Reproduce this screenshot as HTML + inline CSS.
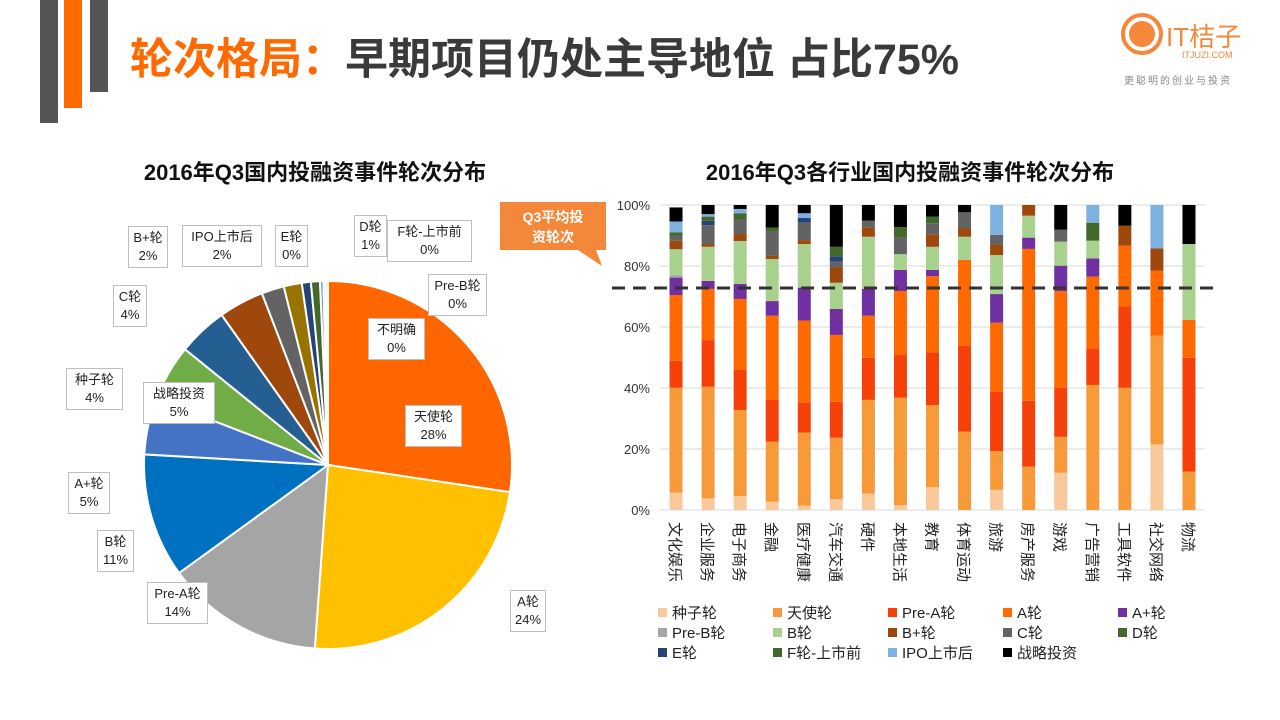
<!DOCTYPE html>
<html><head><meta charset="utf-8">
<style>
body{margin:0;width:1280px;height:720px;background:#fff;overflow:hidden;font-family:"Liberation Sans","Noto Sans CJK SC",sans-serif;position:relative}
.lbl{position:absolute;background:#fff;border:1px solid #bfbfbf;font-size:13px;line-height:18px;text-align:center;color:#222;padding:2px 3px;box-sizing:border-box}
</style></head><body>
<div style="position:absolute;left:40px;top:0;width:18px;height:123px;background:#555"></div>
<div style="position:absolute;left:64px;top:0;width:18px;height:108px;background:#FF6A00"></div>
<div style="position:absolute;left:90px;top:0;width:18px;height:92px;background:#555"></div>
<div style="position:absolute;left:130px;top:25px;font-size:43px;font-weight:bold;color:#3a3a3a;white-space:nowrap"><span style="color:#FF6A00">轮次格局：</span>早期项目仍处主导地位 占比75%</div>
<div style="position:absolute;left:1120px;top:12px;width:140px;height:80px">
 <svg width="140" height="80"><circle cx="22" cy="22" r="19" fill="#fff" stroke="#F4883A" stroke-width="4"/><circle cx="22" cy="22" r="13" fill="#F4883A"/>
 <text x="46" y="34" font-size="26" fill="#F4883A" font-family="Liberation Sans,Noto Sans CJK SC,sans-serif">IT桔子</text>
 <text x="62" y="46" font-size="9" fill="#F4883A">ITJUZI.COM</text>
 <text x="4" y="72" font-size="10" fill="#888" font-family="Noto Sans CJK SC,sans-serif" letter-spacing="2">更聪明的创业与投资</text></svg></div>

<div style="position:absolute;left:100px;top:155px;width:430px;text-align:center;font-size:22px;font-weight:bold;color:#111">2016年Q3国内投融资事件轮次分布</div>
<div style="position:absolute;left:660px;top:155px;width:500px;text-align:center;font-size:22px;font-weight:bold;color:#111">2016年Q3各行业国内投融资事件轮次分布</div>

<svg id="pie" width="1280" height="720" style="position:absolute;left:0;top:0"></svg>

<div class="lbl" style="left:128px;top:226px;width:40px">B+轮<br>2%</div>
<div class="lbl" style="left:182px;top:225px;width:80px">IPO上市后<br>2%</div>
<div class="lbl" style="left:275px;top:225px;width:33px">E轮<br>0%</div>
<div class="lbl" style="left:354px;top:215px;width:33px">D轮<br>1%</div>
<div class="lbl" style="left:387px;top:220px;width:85px">F轮-上市前<br>0%</div>
<div class="lbl" style="left:428px;top:274px;width:59px">Pre-B轮<br>0%</div>
<div class="lbl" style="left:368px;top:318px;width:57px">不明确<br>0%</div>
<div class="lbl" style="left:405px;top:405px;width:57px">天使轮<br>28%</div>
<div class="lbl" style="left:143px;top:382px;width:72px">战略投资<br>5%</div>
<div class="lbl" style="left:113px;top:285px;width:34px">C轮<br>4%</div>
<div class="lbl" style="left:66px;top:368px;width:57px">种子轮<br>4%</div>
<div class="lbl" style="left:68px;top:472px;width:42px">A+轮<br>5%</div>
<div class="lbl" style="left:97px;top:530px;width:37px">B轮<br>11%</div>
<div class="lbl" style="left:147px;top:582px;width:61px">Pre-A轮<br>14%</div>
<div class="lbl" style="left:510px;top:590px;width:36px">A轮<br>24%</div>

<svg id="bar" width="1280" height="720" style="position:absolute;left:0;top:0"></svg>

<script>
// Pie data
const pieCats=["天使轮","A轮","Pre-A轮","B轮","A+轮","战略投资","种子轮","C轮","B+轮","IPO上市后","E轮","D轮","F轮-上市前","Pre-B轮","不明确"];
const pieVals=[27.6,24,14,11,5,5,4.4,4,2,1.6,0.8,0.8,0.3,0.2,0.2];
const pieColors=["#FF6600","#FFC000","#A5A5A5","#0070C0","#4472C4","#70AD47","#255E91","#9E480E","#636363","#997300","#264478","#43682B","#698ED0","#F1975A","#B7B7B7"];
// Bar data
const industries=["文化娱乐","企业服务","电子商务","金融","医疗健康","汽车交通","硬件","本地生活","教育","体育运动","旅游","房产服务","游戏","广告营销","工具软件","社交网络","物流"];
const rounds=["种子轮","天使轮","Pre-A轮","A轮","A+轮","Pre-B轮","B轮","B+轮","C轮","D轮","E轮","F轮-上市前","IPO上市后","战略投资"];
const seed=[5.7,3.8,4.6,2.7,1.4,3.5,5.4,1.6,7.5,0,6.6,0,12.2,0,0,21.5,0];
const angel=[34.4,36.6,28.2,19.7,24,20.2,30.7,35.2,26.9,25.7,12.7,14.2,11.8,41,40.1,35.7,12.6];
const preA=[8.8,15.3,13.1,13.7,9.8,11.8,13.8,14,17.3,28.2,19.5,21.6,16.1,12,26.6,0,37.3];
const roundA=[21.6,16.8,23.3,27.6,26.9,21.9,13.8,21,25,28.1,22.6,49.8,31.7,23.5,20,21.3,12.4];
const aPlus=[5.7,2.6,4.9,4.8,10.8,8.5,8.8,6.9,2,0,9.4,3.7,8.3,6,0,0,0];
const preB=[0.8,0,0,0,0,0,0,0,0,0,0,0,0,0,0,0,0];
const roundB=[8.5,11.2,14.1,13.8,14.3,8.6,17.1,5.2,7.6,7.6,12.8,7.2,7.9,5.8,0,0,24.9];
const bPlus=[2.8,0.9,2.3,1.1,1.3,5,3.1,0,4.1,2.7,3.3,3.5,0,0,6.5,7.3,0];
const roundC=[1.7,6.2,4.6,7.9,5.7,1.9,2.2,5.4,3.6,5.3,3.3,0,3.9,0,0,0,0];
const roundD=[0,0,0,0,0,0,0,0,0,0,0,0,0,0,0,0,0];
const roundE=[0,1.4,0,0,1.6,1.8,0,0,0,0,0,0,0,0,0,0,0];
const roundF=[1,1.4,2.2,1.3,0,3.1,0,3.5,2.2,0,0,0,0,5.9,0,0,0];
const ipo=[3.6,0.8,1.4,0,1.5,0,0,0,0,0,9.8,0,0,5.8,0,14.2,0];
const strategic=[4.6,3,1.3,7.4,2.7,13.7,5.1,7.2,3.8,2.4,0,0,8.1,0,6.8,0,12.8];
const yTicks=[0,20,40,60,80,100];
const avgLine=72.8;

const NS="http://www.w3.org/2000/svg";
function mk(parent,tag,attrs){const e=document.createElementNS(NS,tag);for(const k in attrs)e.setAttribute(k,attrs[k]);parent.appendChild(e);return e;}

// Pie
const pie=document.getElementById('pie');
const cx=328,cy=465,r=184;
const tot=pieVals.reduce((a,b)=>a+b,0);
let ang=0;
pieVals.forEach((v,i)=>{
  const a0=ang, a1=ang+v/tot*2*Math.PI; ang=a1;
  const x0=cx+r*Math.sin(a0),y0=cy-r*Math.cos(a0),x1=cx+r*Math.sin(a1),y1=cy-r*Math.cos(a1);
  const p=mk(pie,'path',{d:`M${cx},${cy}L${x0},${y0}A${r},${r} 0 ${a1-a0>Math.PI?1:0} 1 ${x1},${y1}Z`,fill:pieColors[i],stroke:'#fff','stroke-width':2});
  
  
});

// Bar chart
const bar=document.getElementById('bar');
const series=[seed,angel,preA,roundA,aPlus,preB,roundB,bPlus,roundC,roundD,roundE,roundF,ipo,strategic];
const colors=["#F9C89B","#F79A3A","#F5400A","#FF6A00","#7030A0","#A5A5A5","#A9D18E","#9E480E","#636363","#43682B","#264478","#43682B","#7FB1E0","#000000"];
const y0=510,y1=205,xL=660,xR=1205;
const ys=v=>y0-(v/100)*(y0-y1);
const step=(xR-xL)/industries.length;
const xs=i=>xL+step*(i+0.5);
yTicks.forEach(t=>{
  const l=mk(bar,'line',{x1:xL,x2:xR,y1:ys(t),y2:ys(t),stroke:'#d9d9d9','stroke-width':1});
  
  
  const tx=mk(bar,'text',{x:650,y:ys(t)+5,'text-anchor':'end','font-size':13,fill:'#333'});
  tx.textContent=t+'%';
  
  
});
industries.forEach((name,i)=>{
  let acc=0;
  series.forEach((s,k)=>{
    const v=s[i]; if(!v)return;
    const rc=mk(bar,'rect',{x:xs(i)-6.5,y:ys(acc+v),width:13,height:ys(acc)-ys(acc+v),fill:colors[k]});
    
    
    acc+=v;
  });
  const t=mk(bar,'text',{x:0,y:0,transform:`translate(${xs(i)-6},522) rotate(90)`,'font-size':15,fill:'#222','font-family':'Liberation Sans,Noto Sans CJK SC,sans-serif'});
  t.textContent=name;
  
  
});
const dl=mk(bar,'line',{x1:612,x2:1215,y1:ys(avgLine),y2:ys(avgLine),stroke:'#333','stroke-width':3,'stroke-dasharray':'13,8'});


// callout
const cg=mk(bar,'g',{});


mk(cg,'path',{d:'M500,202H606V250H596L602,266L578,250H500Z',fill:'#F4883A'});
const c1=mk(cg,'text',{x:553,y:222,'text-anchor':'middle','font-size':14,'font-weight':'bold',fill:'#fff'});c1.textContent='Q3平均投';
const c2=mk(cg,'text',{x:553,y:242,'text-anchor':'middle','font-size':14,'font-weight':'bold',fill:'#fff'});c2.textContent='资轮次';
// legend
rounds.forEach((n,k)=>{
  const col=k%5,row=Math.floor(k/5);
  const x=658+col*115,y=614+row*20;
  const sq=mk(bar,'rect',{x:x,y:y-6,width:9,height:9,fill:colors[k]});
  
  
  const t=mk(bar,'text',{x:x+14,y:y+4,'font-size':15,fill:'#222'});
  t.textContent=n;
  
  
});
</script>
</body></html>
